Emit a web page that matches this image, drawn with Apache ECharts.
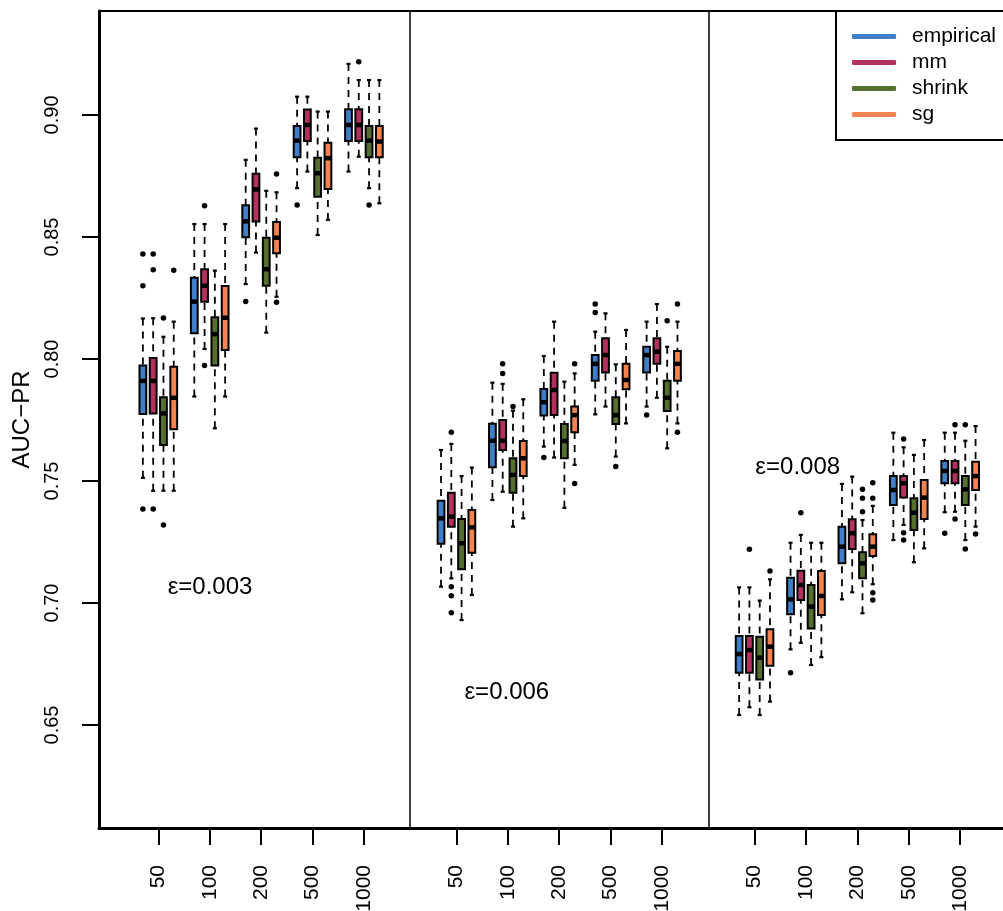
<!DOCTYPE html>
<html>
<head>
<meta charset="utf-8">
<script src="https://cdn.jsdelivr.net/npm/echarts@6/dist/echarts.min.js"></script>
<style>
  html, body { margin: 0; padding: 0; background: #fff; }
  #chart { width: 1003px; height: 911px; }
</style>
</head>
<body>
<div id="chart"></div>
<script>
var sizes = ['50', '100', '200', '500', '1000'];
var epsLabels = ['ε=0.003', 'ε=0.006', 'ε=0.008'];
var methods = ['empirical', 'mm', 'shrink', 'sg'];
var colors = ['#3f7fc7', '#b3315f', '#566f2e', '#f5834f'];
var yTicks = [0.65, 0.70, 0.75, 0.80, 0.85, 0.90];

// rows: [lower whisker, q1, median, q3, upper whisker]
// order: eps 0.003 (50..1000), eps 0.006 (50..1000), eps 0.008 (50..1000)
var empirical = [
  [0.7513, 0.7775, 0.7910, 0.7973, 0.8166],
  [0.7846, 0.8105, 0.8235, 0.8333, 0.8553],
  [0.8307, 0.8499, 0.8564, 0.8630, 0.8816],
  [0.8700, 0.8827, 0.8895, 0.8955, 0.9075],
  [0.8768, 0.8893, 0.8959, 0.9023, 0.9209],
  [0.7067, 0.7243, 0.7347, 0.7419, 0.7627],
  [0.7422, 0.7556, 0.7665, 0.7735, 0.7903],
  [0.7641, 0.7768, 0.7823, 0.7877, 0.8012],
  [0.7773, 0.7911, 0.7980, 0.8016, 0.8112],
  [0.7805, 0.7945, 0.8016, 0.8050, 0.8153],
  [0.6541, 0.6714, 0.6791, 0.6865, 0.7064],
  [0.6810, 0.6954, 0.7015, 0.7104, 0.7247],
  [0.7015, 0.7163, 0.7231, 0.7313, 0.7488],
  [0.7258, 0.7402, 0.7463, 0.7520, 0.7698],
  [0.7372, 0.7491, 0.7541, 0.7582, 0.7698]
];
var mm = [
  [0.7460, 0.7777, 0.7910, 0.8004, 0.8167],
  [0.8041, 0.8235, 0.8300, 0.8368, 0.8553],
  [0.8436, 0.8563, 0.8695, 0.8759, 0.8944],
  [0.8768, 0.8893, 0.8959, 0.9022, 0.9075],
  [0.8829, 0.8893, 0.8959, 0.9023, 0.9143],
  [0.7101, 0.7313, 0.7354, 0.7452, 0.7652],
  [0.7456, 0.7627, 0.7665, 0.7750, 0.7898],
  [0.7596, 0.7770, 0.7873, 0.7944, 0.8153],
  [0.7805, 0.7945, 0.8016, 0.8085, 0.8187],
  [0.7841, 0.7980, 0.8030, 0.8085, 0.8225],
  [0.6573, 0.6714, 0.6807, 0.6865, 0.7064],
  [0.6837, 0.7012, 0.7074, 0.7132, 0.7279],
  [0.7044, 0.7221, 0.7286, 0.7343, 0.7518],
  [0.7320, 0.7432, 0.7491, 0.7520, 0.7638],
  [0.7374, 0.7491, 0.7541, 0.7582, 0.7698]
];
var shrink = [
  [0.7460, 0.7648, 0.7777, 0.7843, 0.8091],
  [0.7716, 0.7973, 0.8102, 0.8171, 0.8362],
  [0.8108, 0.8300, 0.8368, 0.8497, 0.8689],
  [0.8508, 0.8665, 0.8761, 0.8825, 0.9014],
  [0.8700, 0.8827, 0.8895, 0.8955, 0.9143],
  [0.6930, 0.7138, 0.7245, 0.7344, 0.7520],
  [0.7313, 0.7452, 0.7525, 0.7593, 0.7788],
  [0.7390, 0.7593, 0.7664, 0.7734, 0.7907],
  [0.7600, 0.7734, 0.7770, 0.7843, 0.7978],
  [0.7634, 0.7787, 0.7841, 0.7911, 0.8050],
  [0.6541, 0.6687, 0.6776, 0.6862, 0.7010],
  [0.6746, 0.6896, 0.6985, 0.7074, 0.7247],
  [0.6958, 0.7101, 0.7163, 0.7208, 0.7340],
  [0.7167, 0.7299, 0.7370, 0.7429, 0.7607],
  [0.7258, 0.7402, 0.7466, 0.7520, 0.7665]
];
var sg = [
  [0.7460, 0.7712, 0.7841, 0.7968, 0.8153],
  [0.7846, 0.8037, 0.8169, 0.8299, 0.8553],
  [0.8255, 0.8433, 0.8497, 0.8561, 0.8683],
  [0.8570, 0.8697, 0.8823, 0.8886, 0.9014],
  [0.8638, 0.8827, 0.8891, 0.8955, 0.9143],
  [0.7033, 0.7206, 0.7310, 0.7381, 0.7555],
  [0.7347, 0.7520, 0.7593, 0.7664, 0.7835],
  [0.7566, 0.7700, 0.7770, 0.7805, 0.7941],
  [0.7736, 0.7876, 0.7914, 0.7980, 0.8119],
  [0.7736, 0.7911, 0.7980, 0.8033, 0.8153],
  [0.6596, 0.6743, 0.6821, 0.6892, 0.7097],
  [0.6778, 0.6951, 0.7029, 0.7131, 0.7247],
  [0.7077, 0.7193, 0.7231, 0.7282, 0.7398],
  [0.7224, 0.7344, 0.7432, 0.7504, 0.7668],
  [0.7313, 0.7463, 0.7520, 0.7579, 0.7725]
];

// outliers, same order as the rows above
var empiricalOut = [
  [0.843, 0.830, 0.7385], [], [0.8236], [0.8631], [],
  [], [], [0.7596], [0.8225, 0.819], [0.777],
  [], [0.6714], [], [], [0.7286]
];
var mmOut = [
  [0.843, 0.8366, 0.7385], [0.8628, 0.7973], [], [], [0.9218],
  [0.770, 0.7067, 0.703, 0.696], [0.798, 0.7941], [], [], [],
  [0.722], [0.737], [], [0.7672, 0.7288, 0.7258], [0.773, 0.7344]
];
var shrinkOut = [
  [0.8168, 0.732], [], [], [], [0.8631],
  [], [0.7805], [], [0.7559], [0.8157],
  [], [], [0.7466, 0.7429, 0.7374], [], [0.773, 0.7221]
];
var sgOut = [
  [0.8364], [], [0.8758, 0.8232], [], [],
  [], [], [0.798, 0.749], [], [0.8225, 0.770],
  [0.7131], [], [0.7493, 0.7429, 0.7042, 0.7012], [], [0.7283]
];

var stats = [empirical, mm, shrink, sg];
var outliers = [empiricalOut, mmOut, shrinkOut, sgOut];

// layout on the x value axis: box slot = 1 unit, group = 5 units, panel = 29 units
var panelStep = 29, groupStep = 5;
function slotX(row, m) {
  return Math.floor(row / 5) * panelStep + (row % 5) * groupStep + (m - 1.5);
}
var tickPos = [], tickText = {};
for (var p = 0; p < 3; p++) {
  for (var g = 0; g < 5; g++) {
    var v = p * panelStep + g * groupStep;
    tickPos.push(v);
    tickText[v] = sizes[g];
  }
}
var separators = [24.5, 53.5];
var epsAt = [[5.03, 0.7066], [33.9, 0.6635], [62.2, 0.7557]];

function renderBox(params, api) {
  var x = api.value(0);
  var lo = api.coord([x, api.value(1)]);
  var q1 = api.coord([x, api.value(2)]);
  var md = api.coord([x, api.value(3)]);
  var q3 = api.coord([x, api.value(4)]);
  var hi = api.coord([x, api.value(5)]);
  var w = api.size([0.66, 0])[0];
  var cx = lo[0];
  var cap = w * 0.3;
  var dash = { stroke: '#000', lineWidth: 1.8, lineDash: [7, 6] };
  var solid = { stroke: '#000', lineWidth: 2.2 };
  return {
    type: 'group',
    children: [
      { type: 'line', shape: { x1: cx, y1: hi[1], x2: cx, y2: q3[1] }, style: dash },
      { type: 'line', shape: { x1: cx, y1: lo[1], x2: cx, y2: q1[1] }, style: dash },
      { type: 'line', shape: { x1: cx - cap, y1: hi[1], x2: cx + cap, y2: hi[1] }, style: solid },
      { type: 'line', shape: { x1: cx - cap, y1: lo[1], x2: cx + cap, y2: lo[1] }, style: solid },
      { type: 'rect', shape: { x: cx - w / 2, y: q3[1], width: w, height: q1[1] - q3[1] },
        style: { fill: api.visual('color'), stroke: '#000', lineWidth: 2 } },
      { type: 'line', shape: { x1: cx - w / 2, y1: md[1], x2: cx + w / 2, y2: md[1] },
        style: { stroke: '#000', lineWidth: 4.5 } }
    ]
  };
}

var series = [];
methods.forEach(function (name, m) {
  series.push({
    name: name,
    type: 'custom',
    renderItem: renderBox,
    itemStyle: { color: colors[m] },
    encode: { x: 0, y: [1, 2, 3, 4, 5] },
    data: stats[m].map(function (r, i) { return [slotX(i, m)].concat(r); }),
    silent: true
  });
});

var outData = [];
outliers.forEach(function (list, m) {
  list.forEach(function (vals, i) {
    vals.forEach(function (v) { outData.push([slotX(i, m), v]); });
  });
});
series.push({
  name: 'outliers',
  type: 'scatter',
  symbol: 'circle',
  symbolSize: 5.5,
  itemStyle: { color: '#000', opacity: 1 },
  data: outData,
  silent: true,
  markLine: {
    silent: true,
    symbol: ['none', 'none'],
    label: { show: false },
    lineStyle: { color: '#000', width: 1.5, type: 'solid', opacity: 1 },
    data: separators.map(function (s) { return { xAxis: s }; })
  }
});
series.push({
  name: 'eps',
  type: 'scatter',
  symbolSize: 0,
  itemStyle: { color: '#000', opacity: 1 },
  silent: true,
  label: {
    show: true, position: 'inside', color: '#000', opacity: 1,
    fontFamily: 'Liberation Sans', fontSize: 24,
    formatter: function (p) { return p.name; }
  },
  data: epsLabels.map(function (t, i) { return { name: t, value: epsAt[i] }; })
});

var chart = echarts.init(document.getElementById('chart'));
chart.setOption({
  animation: false,
  color: colors,
  textStyle: { fontFamily: 'Liberation Sans' },
  grid: {
    left: 99, top: 11, right: -10, bottom: 83,
    show: true, borderColor: '#000', borderWidth: 2,
    outerBoundsMode: 'none'
  },
  legend: {
    data: methods,
    orient: 'vertical',
    left: 836, top: 11,
    padding: [15, 20, 15, 16],
    borderColor: '#000', borderWidth: 2,
    backgroundColor: '#fff',
    icon: 'roundRect',
    itemWidth: 44, itemHeight: 5, itemGap: 5,
    textStyle: { fontFamily: 'Liberation Sans', fontSize: 21, color: '#000', padding: [0, 0, 0, 11] }
  },
  xAxis: {
    type: 'value', min: -5.77, max: 83.14,
    splitLine: { show: false },
    axisLine: { onZero: false, lineStyle: { color: '#000', width: 3 } },
    axisTick: { customValues: tickPos, length: 17, lineStyle: { color: '#000', width: 2 } },
    axisLabel: {
      customValues: tickPos, rotate: 90, margin: 37,
      fontFamily: 'Liberation Sans', fontSize: 21, color: '#000',
      formatter: function (v) { return tickText[v]; }
    }
  },
  yAxis: {
    type: 'value', min: 0.6078, max: 0.9426,
    name: 'AUC\u2212PR', nameLocation: 'middle', nameGap: 63,
    nameTextStyle: { fontFamily: 'Liberation Sans', fontSize: 24, color: '#000' },
    splitLine: { show: false },
    axisLine: { onZero: false, lineStyle: { color: '#000', width: 3 } },
    axisTick: { customValues: yTicks, length: 17, lineStyle: { color: '#000', width: 2 } },
    axisLabel: {
      customValues: yTicks, rotate: 90, margin: 37,
      fontFamily: 'Liberation Sans', fontSize: 20, color: '#000',
      formatter: function (v) { return v.toFixed(2); }
    }
  },
  series: series
});
</script>
</body>
</html>
